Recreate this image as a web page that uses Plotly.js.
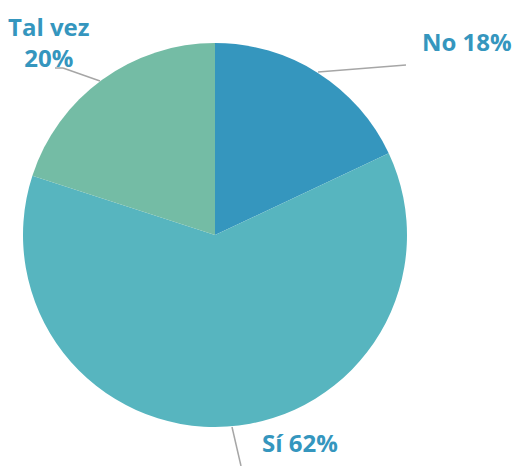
<!DOCTYPE html>
<html><head><meta charset="utf-8">
<script src="https://cdn.plot.ly/plotly-3.0.1.min.js"></script>
<style>html,body{margin:0;padding:0;background:#fff}#c{width:514px;height:466px}</style>
</head><body><div id="c"></div>
<script>
const categories = ["No", "Sí", "Tal vez"];
const values = [18, 62, 20];
const labelTexts = ["No 18%", "Sí 62%", "Tal vez<br>20%"];
const colors = ["#3596BE", "#57B5BF", "#74BCA5"];

const W = 514, H = 466;
const cx = 215, cy = 235, r = 192;
const dom = {x: [(cx - r) / W, (cx + r) / W], y: [(H - cy - r) / H, (H - cy + r) / H]};
const px = x => x / W, py = y => 1 - y / H;

const font = {family: "Open Sans, Noto Sans, sans-serif", size: 24, color: "#3596BE", weight: 700};
const labelPos = [[467, 41], [300, 442], [49, 42]];
const lines = [
  [[318, 72], [406, 65]],
  [[232, 427], [241, 466]],
  [[55, 68], [63, 68], [100, 81]]
];

const shapes = [];
lines.forEach(pts => {
  for (let i = 0; i < pts.length - 1; i++) {
    shapes.push({type: "line", xref: "paper", yref: "paper",
      x0: px(pts[i][0]), y0: py(pts[i][1]), x1: px(pts[i+1][0]), y1: py(pts[i+1][1]),
      line: {color: "#A6A6A6", width: 1.5}, layer: "below"});
  }
});

const annotations = labelTexts.map((t, i) => ({
  text: "<b>" + t + "</b>", xref: "paper", yref: "paper",
  x: px(labelPos[i][0]), y: py(labelPos[i][1]), xanchor: "center", yanchor: "middle",
  showarrow: false, font: font, align: "center"
}));

Plotly.newPlot("c", [{
  type: "pie", labels: categories, values: values, sort: false, direction: "clockwise",
  rotation: 0, textinfo: "none", hoverinfo: "label+percent",
  marker: {colors: colors, line: {width: 0}}, domain: dom
}], {
  width: W, height: H, margin: {l: 0, r: 0, t: 0, b: 0}, showlegend: false,
  paper_bgcolor: "#fff", shapes: shapes, annotations: annotations
}, {displayModeBar: false, staticPlot: true});
</script></body></html>
